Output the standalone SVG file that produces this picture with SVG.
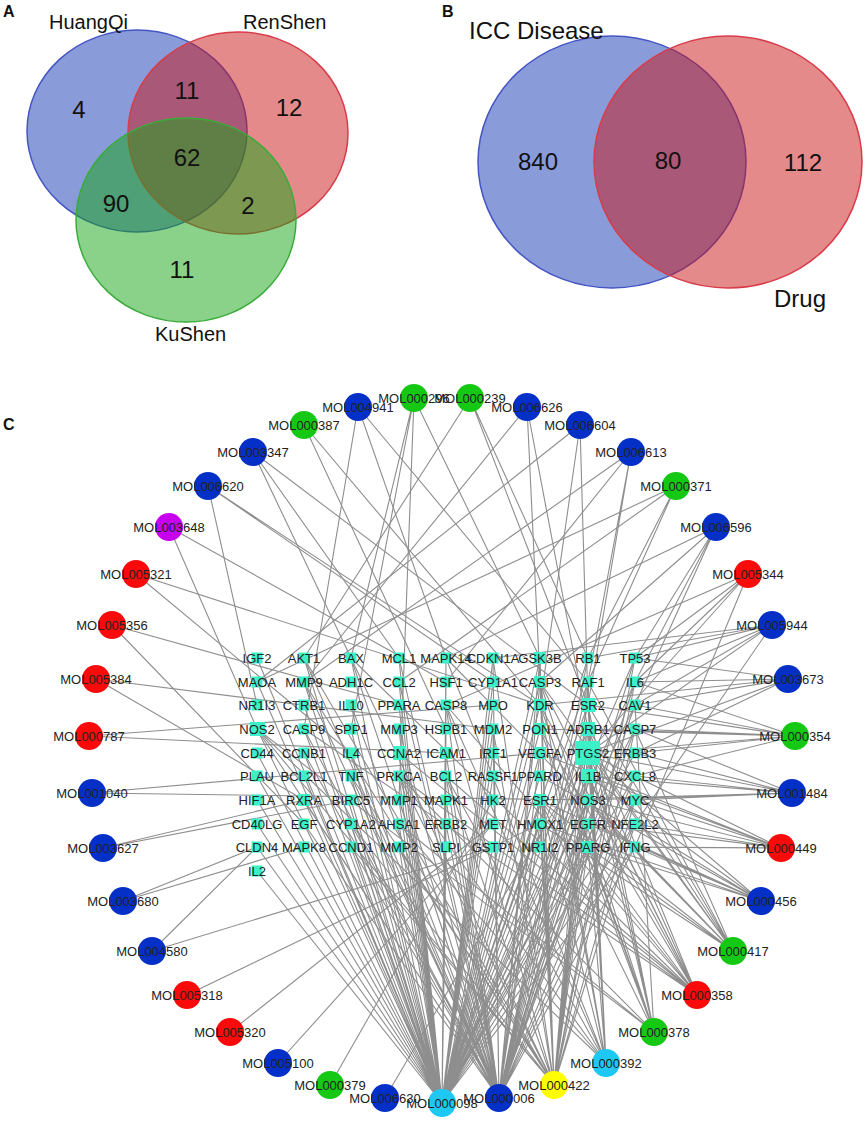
<svg xmlns="http://www.w3.org/2000/svg" width="865" height="1122" viewBox="0 0 865 1122">
<style>
text{font-family:"Liberation Sans",Arial,sans-serif;fill:#111}
.pl{font-weight:bold;font-size:16px}
.vl{font-size:20px}
.vn{font-size:24px;text-anchor:middle}
.vb{fill-opacity:.5;stroke-width:1.5}
.e{stroke:#8e8e8e;stroke-width:1.1;fill:none}
.m text{font-size:13px;text-anchor:middle;fill:#222}
.t text{font-size:13px;text-anchor:middle;fill:#222}
.t rect{fill:#3cf0c8}
.b{fill:#0530c8}.g{fill:#14c814}.r{fill:#fa0a0a}.p{fill:#c800f0}.c{fill:#1ec8f5}.y{fill:#ffff00}
</style>
<rect width="865" height="1122" fill="#fff"/>
<g id="panelA">
<text class="pl" x="3" y="17">A</text>
<ellipse id="vHuangQi" class="vb" cx="137" cy="131" rx="110" ry="101" fill="#1337b1" stroke="#4555c4"/>
<ellipse id="vRenShen" class="vb" cx="238" cy="133" rx="110" ry="101" fill="#cb1515" stroke="#d83c4a"/>
<ellipse id="vKuShen" class="vb" cx="186" cy="220" rx="110" ry="102" fill="#15a515" stroke="#3aac3a"/>
<text class="vl" x="49" y="29">HuangQi</text>
<text class="vl" x="243" y="29">RenShen</text>
<text class="vl" x="155" y="341">KuShen</text>
<text class="vn" x="79" y="118">4</text>
<text class="vn" x="187" y="99">11</text>
<text class="vn" x="289" y="116">12</text>
<text class="vn" x="187" y="166">62</text>
<text class="vn" x="116" y="212">90</text>
<text class="vn" x="248" y="214">2</text>
<text class="vn" x="182" y="278">11</text>
</g>
<g id="panelB">
<text class="pl" x="442" y="17">B</text>
<ellipse id="vICC" class="vb" cx="612" cy="162" rx="134" ry="126" fill="#1337b1" stroke="#4555c4"/>
<ellipse id="vDrug" class="vb" cx="728" cy="162" rx="134" ry="126" fill="#cb1515" stroke="#d83c4a"/>
<text x="469" y="39" font-size="24">ICC Disease</text>
<text x="774" y="307" font-size="24">Drug</text>
<text class="vn" x="538" y="170">840</text>
<text class="vn" x="668" y="169">80</text>
<text class="vn" x="803" y="171">112</text>
</g>
<text class="pl" x="3" y="430">C</text>
<g id="connectors" class="e">
<path d="M442 1103L257 658M442 1103L304 658M442 1103L351 658M442 1103L399 658M442 1103L446 658M442 1103L493 658M442 1103L540 658M442 1103L588 658M442 1103L635 658M442 1103L257 682M442 1103L304 682M442 1103L399 682M442 1103L446 682M442 1103L493 682M442 1103L540 682M442 1103L588 682M442 1103L635 682M442 1103L304 705M442 1103L351 705M442 1103L399 705M442 1103L446 705M442 1103L493 705M442 1103L540 705M442 1103L588 705M442 1103L635 705M442 1103L257 729M442 1103L304 729M442 1103L351 729M442 1103L399 729M442 1103L446 729M442 1103L493 729M442 1103L540 729M442 1103L588 729M442 1103L635 729M442 1103L257 753M442 1103L304 753M442 1103L351 753M442 1103L399 753M442 1103L446 753M442 1103L493 753M442 1103L540 753M442 1103L588 753M442 1103L635 753M442 1103L257 776M442 1103L304 776M442 1103L351 776M442 1103L399 776M442 1103L446 776M442 1103L493 776M442 1103L540 776M442 1103L588 776M442 1103L635 776M442 1103L257 800M442 1103L304 800M442 1103L351 800M442 1103L399 800M442 1103L446 800M442 1103L540 800M442 1103L588 800M442 1103L635 800M442 1103L257 824M442 1103L304 824M442 1103L351 824M442 1103L399 824M442 1103L446 824M442 1103L540 824M442 1103L588 824M442 1103L635 824M442 1103L257 847M442 1103L351 847M442 1103L399 847M442 1103L446 847M442 1103L493 847M442 1103L588 847M442 1103L635 847M442 1103L257 871"/>
<path d="M499 1098L304 658M499 1098L351 658M499 1098L399 658M499 1098L493 658M499 1098L540 658M499 1098L588 658M499 1098L635 658M499 1098L304 682M499 1098L399 682M499 1098L540 682M499 1098L588 682M499 1098L635 682M499 1098L351 705M499 1098L446 705M499 1098L588 705M499 1098L635 705M499 1098L257 729M499 1098L304 729M499 1098L399 729M499 1098L493 729M499 1098L588 729M499 1098L635 729M499 1098L304 753M499 1098L351 753M499 1098L446 753M499 1098L540 753M499 1098L588 753M499 1098L351 776M499 1098L399 776M499 1098L446 776M499 1098L588 776M499 1098L635 776M499 1098L304 800M499 1098L399 800M499 1098L446 800M499 1098L540 800M499 1098L588 800M499 1098L635 800M499 1098L304 824M499 1098L351 824M499 1098L446 824M499 1098L540 824M499 1098L588 824M499 1098L635 824M499 1098L351 847M499 1098L399 847M499 1098L588 847M499 1098L635 847"/>
<path d="M554 1085L304 658M554 1085L351 658M554 1085L493 658M554 1085L540 658M554 1085L635 658M554 1085L304 682M554 1085L540 682M554 1085L588 682M554 1085L635 682M554 1085L446 705M554 1085L257 729M554 1085L493 729M554 1085L588 729M554 1085L635 729M554 1085L540 753M554 1085L588 753M554 1085L351 776M554 1085L399 776M554 1085L446 776M554 1085L588 776M554 1085L540 800M554 1085L588 800M554 1085L635 800M554 1085L351 824M554 1085L540 824M554 1085L588 824M554 1085L635 824M554 1085L351 847M554 1085L399 847M554 1085L588 847"/>
<path d="M606 1063L588 729M606 1063L588 753M606 1063L540 800M606 1063L588 705M606 1063L540 682M606 1063L446 776M606 1063L588 847M606 1063L257 729M606 1063L446 705M606 1063L588 682M606 1063L540 705M606 1063L399 824M606 1063L446 658M606 1063L399 776"/>
<path d="M654 1032L588 753M654 1032L588 729M654 1032L540 800M654 1032L588 705M654 1032L588 847M654 1032L540 682M654 1032L257 729M654 1032L540 705M654 1032L399 824M654 1032L399 776M654 1032L540 729M654 1032L635 705"/>
<path d="M697 995L588 753M697 995L588 729M697 995L446 776M697 995L540 682M697 995L304 729M697 995L446 705M697 995L399 776M697 995L588 847M697 995L540 800M697 995L540 705M697 995L540 729M697 995L351 658M697 995L399 753M697 995L588 776"/>
<path d="M733 951L588 753M733 951L540 800M733 951L588 705M733 951L588 847M733 951L588 800M733 951L588 729M733 951L540 682M733 951L540 824M733 951L635 729M733 951L446 658M733 951L588 682"/>
<path d="M761 901L588 753M761 901L588 776M761 901L635 847M761 901L635 824M761 901L588 847M761 901L588 824M761 901L540 800M761 901L540 776M761 901L540 824"/>
<path d="M781 848L635 824M781 848L635 847M781 848L635 800M781 848L588 753M781 848L588 776M781 848L588 824M781 848L588 800M781 848L588 847M781 848L635 776M781 848L540 753"/>
<path d="M792 793L635 800M792 793L635 776M792 793L588 753M792 793L635 753M792 793L588 776M792 793L588 800M792 793L540 800M792 793L635 729"/>
<path d="M795 736L635 729M795 736L588 753M795 736L635 682M795 736L635 705M795 736L635 753M795 736L635 776M795 736L588 729M795 736L588 705M795 736L540 729"/>
<path d="M788 679L635 682M788 679L635 705M788 679L635 753M788 679L588 753M788 679L540 705M788 679L635 658"/>
<path d="M772 625L635 658M772 625L635 682M772 625L635 705M772 625L588 753M772 625L635 824M772 625L493 658M772 625L588 658"/>
<path d="M748 574L635 847M748 574L635 658M748 574L446 705M748 574L635 682M748 574L588 753"/>
<path d="M716 527L446 658M716 527L540 682M716 527L635 658M716 527L635 682M716 527L635 705"/>
<path d="M676 486L399 682M676 486L257 682M676 486L588 658M676 486L588 682"/>
<path d="M631 452L304 682M631 452L446 682M631 452L588 682M631 452L588 705"/>
<path d="M580 425L257 682M580 425L540 705M580 425L588 705"/>
<path d="M527 407L304 682M527 407L540 682M527 407L588 729"/>
<path d="M470 398L304 658M470 398L588 658M470 398L588 705"/>
<path d="M414 398L351 658M414 398L351 729M414 398L540 658M414 398L399 800"/>
<path d="M358 407L304 729M358 407L588 682M358 407L446 658"/>
<path d="M304 425L446 729M304 425L540 705"/>
<path d="M253 452L399 658M253 452L588 705M253 452L351 658"/>
<path d="M208 486L257 705M208 486L493 682M208 486L540 705"/>
<path d="M169 527L257 729M169 527L446 682"/>
<path d="M136 574L540 705M136 574L351 753"/>
<path d="M112 625L399 705M112 625L304 824"/>
<path d="M96 679L493 729M96 679L304 800"/>
<path d="M89 736L493 705M89 736L446 753"/>
<path d="M92 793L540 753M92 793L588 800"/>
<path d="M103 848L304 800M103 848L351 800"/>
<path d="M123 901L257 847M123 901L304 847"/>
<path d="M152 951L257 847M152 951L493 847"/>
<path d="M187 995L540 824"/>
<path d="M230 1032L493 824"/>
<path d="M278 1063L493 824"/>
<path d="M330 1085L493 800"/>
<path d="M385 1098L588 753"/>
</g>
<g id="targets">
<g id="IGF2" class="t"><rect x="251.5" y="652.5" width="11" height="11"/><text x="257" y="663">IGF2</text></g>
<g id="AKT1" class="t"><rect x="298.5" y="652.5" width="11" height="11"/><text x="304" y="663">AKT1</text></g>
<g id="BAX" class="t"><rect x="345.5" y="652.5" width="11" height="11"/><text x="351" y="663">BAX</text></g>
<g id="MCL1" class="t"><rect x="393.5" y="652.5" width="11" height="11"/><text x="399" y="663">MCL1</text></g>
<g id="MAPK14" class="t"><rect x="440.5" y="652.5" width="11" height="11"/><text x="446" y="663">MAPK14</text></g>
<g id="CDKN1A" class="t"><rect x="487.5" y="652.5" width="11" height="11"/><text x="493" y="663">CDKN1A</text></g>
<g id="GSK3B" class="t"><rect x="534" y="652" width="12" height="12"/><text x="540" y="663">GSK3B</text></g>
<g id="RB1" class="t"><rect x="582.5" y="652.5" width="11" height="11"/><text x="588" y="663">RB1</text></g>
<g id="TP53" class="t"><rect x="629.5" y="652.5" width="11" height="11"/><text x="635" y="663">TP53</text></g>
<g id="MAOA" class="t"><rect x="251.5" y="676.5" width="11" height="11"/><text x="257" y="687">MAOA</text></g>
<g id="MMP9" class="t"><rect x="298.5" y="676.5" width="11" height="11"/><text x="304" y="687">MMP9</text></g>
<g id="ADH1C" class="t"><rect x="345.5" y="676.5" width="11" height="11"/><text x="351" y="687">ADH1C</text></g>
<g id="CCL2" class="t"><rect x="393.5" y="676.5" width="11" height="11"/><text x="399" y="687">CCL2</text></g>
<g id="HSF1" class="t"><rect x="440.5" y="676.5" width="11" height="11"/><text x="446" y="687">HSF1</text></g>
<g id="CYP1A1" class="t"><rect x="487.5" y="676.5" width="11" height="11"/><text x="493" y="687">CYP1A1</text></g>
<g id="CASP3" class="t"><rect x="534" y="676" width="12" height="12"/><text x="540" y="687">CASP3</text></g>
<g id="RAF1" class="t"><rect x="582.5" y="676.5" width="11" height="11"/><text x="588" y="687">RAF1</text></g>
<g id="IL6" class="t"><rect x="629.5" y="676.5" width="11" height="11"/><text x="635" y="687">IL6</text></g>
<g id="NR1I3" class="t"><rect x="251.5" y="699.5" width="11" height="11"/><text x="257" y="710">NR1I3</text></g>
<g id="CTRB1" class="t"><rect x="298.5" y="699.5" width="11" height="11"/><text x="304" y="710">CTRB1</text></g>
<g id="IL10" class="t"><rect x="345.5" y="699.5" width="11" height="11"/><text x="351" y="710">IL10</text></g>
<g id="PPARA" class="t"><rect x="393.5" y="699.5" width="11" height="11"/><text x="399" y="710">PPARA</text></g>
<g id="CASP8" class="t"><rect x="440.5" y="699.5" width="11" height="11"/><text x="446" y="710">CASP8</text></g>
<g id="MPO" class="t"><rect x="487.5" y="699.5" width="11" height="11"/><text x="493" y="710">MPO</text></g>
<g id="KDR" class="t"><rect x="534" y="699" width="12" height="12"/><text x="540" y="710">KDR</text></g>
<g id="ESR2" class="t"><rect x="581" y="698" width="14" height="14"/><text x="588" y="710">ESR2</text></g>
<g id="CAV1" class="t"><rect x="629.5" y="699.5" width="11" height="11"/><text x="635" y="710">CAV1</text></g>
<g id="NOS2" class="t"><rect x="250" y="722" width="15" height="14"/><text x="257" y="734">NOS2</text></g>
<g id="CASP9" class="t"><rect x="298.5" y="723.5" width="11" height="11"/><text x="304" y="734">CASP9</text></g>
<g id="SPP1" class="t"><rect x="345.5" y="723.5" width="11" height="11"/><text x="351" y="734">SPP1</text></g>
<g id="MMP3" class="t"><rect x="393.5" y="723.5" width="11" height="11"/><text x="399" y="734">MMP3</text></g>
<g id="HSPB1" class="t"><rect x="440.5" y="723.5" width="11" height="11"/><text x="446" y="734">HSPB1</text></g>
<g id="MDM2" class="t"><rect x="487.5" y="723.5" width="11" height="11"/><text x="493" y="734">MDM2</text></g>
<g id="PON1" class="t"><rect x="534" y="723" width="12" height="12"/><text x="540" y="734">PON1</text></g>
<g id="ADRB1" class="t"><rect x="581" y="722" width="14" height="14"/><text x="588" y="734">ADRB1</text></g>
<g id="CASP7" class="t"><rect x="629.5" y="723.5" width="11" height="11"/><text x="635" y="734">CASP7</text></g>
<g id="CD44" class="t"><rect x="251.5" y="747.5" width="11" height="11"/><text x="257" y="758">CD44</text></g>
<g id="CCNB1" class="t"><rect x="298.5" y="747.5" width="11" height="11"/><text x="304" y="758">CCNB1</text></g>
<g id="IL4" class="t"><rect x="345.5" y="747.5" width="11" height="11"/><text x="351" y="758">IL4</text></g>
<g id="CCNA2" class="t"><rect x="393" y="746" width="13" height="14"/><text x="399" y="758">CCNA2</text></g>
<g id="ICAM1" class="t"><rect x="440" y="747" width="12" height="12"/><text x="446" y="758">ICAM1</text></g>
<g id="IRF1" class="t"><rect x="487.5" y="747.5" width="11" height="11"/><text x="493" y="758">IRF1</text></g>
<g id="VEGFA" class="t"><rect x="534" y="747" width="12" height="12"/><text x="540" y="758">VEGFA</text></g>
<g id="PTGS2" class="t"><rect x="575" y="741" width="25" height="24"/><text x="588" y="758">PTGS2</text></g>
<g id="ERBB3" class="t"><rect x="629.5" y="747.5" width="11" height="11"/><text x="635" y="758">ERBB3</text></g>
<g id="PLAU" class="t"><rect x="251.5" y="770.5" width="11" height="11"/><text x="257" y="781">PLAU</text></g>
<g id="BCL2L1" class="t"><rect x="298.5" y="770.5" width="11" height="11"/><text x="304" y="781">BCL2L1</text></g>
<g id="TNF" class="t"><rect x="345.5" y="770.5" width="11" height="11"/><text x="351" y="781">TNF</text></g>
<g id="PRKCA" class="t"><rect x="393.5" y="770.5" width="11" height="11"/><text x="399" y="781">PRKCA</text></g>
<g id="BCL2" class="t"><rect x="440.5" y="770.5" width="11" height="11"/><text x="446" y="781">BCL2</text></g>
<g id="RASSF1" class="t"><rect x="487.5" y="770.5" width="11" height="11"/><text x="493" y="781">RASSF1</text></g>
<g id="PPARD" class="t"><rect x="534.5" y="770.5" width="11" height="11"/><text x="540" y="781">PPARD</text></g>
<g id="IL1B" class="t"><rect x="581" y="769" width="14" height="14"/><text x="588" y="781">IL1B</text></g>
<g id="CXCL8" class="t"><rect x="629.5" y="770.5" width="11" height="11"/><text x="635" y="781">CXCL8</text></g>
<g id="HIF1A" class="t"><rect x="251.5" y="794.5" width="11" height="11"/><text x="257" y="805">HIF1A</text></g>
<g id="RXRA" class="t"><rect x="298" y="794" width="12" height="12"/><text x="304" y="805">RXRA</text></g>
<g id="BIRC5" class="t"><rect x="345.5" y="794.5" width="11" height="11"/><text x="351" y="805">BIRC5</text></g>
<g id="MMP1" class="t"><rect x="393.5" y="794.5" width="11" height="11"/><text x="399" y="805">MMP1</text></g>
<g id="MAPK1" class="t"><rect x="440.5" y="794.5" width="11" height="11"/><text x="446" y="805">MAPK1</text></g>
<g id="HK2" class="t"><rect x="487.5" y="794.5" width="11" height="11"/><text x="493" y="805">HK2</text></g>
<g id="ESR1" class="t"><rect x="534" y="794" width="12" height="12"/><text x="540" y="805">ESR1</text></g>
<g id="NOS3" class="t"><rect x="582.5" y="794.5" width="11" height="11"/><text x="588" y="805">NOS3</text></g>
<g id="MYC" class="t"><rect x="629.5" y="794.5" width="11" height="11"/><text x="635" y="805">MYC</text></g>
<g id="CD40LG" class="t"><rect x="251.5" y="818.5" width="11" height="11"/><text x="257" y="829">CD40LG</text></g>
<g id="EGF" class="t"><rect x="298.5" y="818.5" width="11" height="11"/><text x="304" y="829">EGF</text></g>
<g id="CYP1A2" class="t"><rect x="345.5" y="818.5" width="11" height="11"/><text x="351" y="829">CYP1A2</text></g>
<g id="AHSA1" class="t"><rect x="393.5" y="818.5" width="11" height="11"/><text x="399" y="829">AHSA1</text></g>
<g id="ERBB2" class="t"><rect x="440.5" y="818.5" width="11" height="11"/><text x="446" y="829">ERBB2</text></g>
<g id="MET" class="t"><rect x="487.5" y="818.5" width="11" height="11"/><text x="493" y="829">MET</text></g>
<g id="HMOX1" class="t"><rect x="534.5" y="818.5" width="11" height="11"/><text x="540" y="829">HMOX1</text></g>
<g id="EGFR" class="t"><rect x="582.5" y="818.5" width="11" height="11"/><text x="588" y="829">EGFR</text></g>
<g id="NFE2L2" class="t"><rect x="629.5" y="818.5" width="11" height="11"/><text x="635" y="829">NFE2L2</text></g>
<g id="CLDN4" class="t"><rect x="251.5" y="841.5" width="11" height="11"/><text x="257" y="852">CLDN4</text></g>
<g id="MAPK8" class="t"><rect x="298.5" y="841.5" width="11" height="11"/><text x="304" y="852">MAPK8</text></g>
<g id="CCND1" class="t"><rect x="345.5" y="841.5" width="11" height="11"/><text x="351" y="852">CCND1</text></g>
<g id="MMP2" class="t"><rect x="393.5" y="841.5" width="11" height="11"/><text x="399" y="852">MMP2</text></g>
<g id="SLPI" class="t"><rect x="440.5" y="841.5" width="11" height="11"/><text x="446" y="852">SLPI</text></g>
<g id="GSTP1" class="t"><rect x="487.5" y="841.5" width="11" height="11"/><text x="493" y="852">GSTP1</text></g>
<g id="NR1I2" class="t"><rect x="534.5" y="841.5" width="11" height="11"/><text x="540" y="852">NR1I2</text></g>
<g id="PPARG" class="t"><rect x="582" y="841" width="12" height="12"/><text x="588" y="852">PPARG</text></g>
<g id="IFNG" class="t"><rect x="629.5" y="841.5" width="11" height="11"/><text x="635" y="852">IFNG</text></g>
<g id="IL2" class="t"><rect x="251.5" y="865.5" width="11" height="11"/><text x="257" y="876">IL2</text></g>
</g>
<g id="compounds">
<g id="MOL000098" class="m"><circle class="c" cx="442" cy="1103" r="14"/><text x="442" y="1108">MOL000098</text></g>
<g id="MOL006630" class="m"><circle class="b" cx="385" cy="1098" r="14"/><text x="385" y="1103">MOL006630</text></g>
<g id="MOL000379" class="m"><circle class="g" cx="330" cy="1085" r="14"/><text x="330" y="1090">MOL000379</text></g>
<g id="MOL005100" class="m"><circle class="b" cx="278" cy="1063" r="14"/><text x="278" y="1068">MOL005100</text></g>
<g id="MOL005320" class="m"><circle class="r" cx="230" cy="1032" r="14"/><text x="230" y="1037">MOL005320</text></g>
<g id="MOL005318" class="m"><circle class="r" cx="187" cy="995" r="14"/><text x="187" y="1000">MOL005318</text></g>
<g id="MOL004580" class="m"><circle class="b" cx="152" cy="951" r="14"/><text x="152" y="956">MOL004580</text></g>
<g id="MOL003680" class="m"><circle class="b" cx="123" cy="901" r="14"/><text x="123" y="906">MOL003680</text></g>
<g id="MOL003627" class="m"><circle class="b" cx="103" cy="848" r="14"/><text x="103" y="853">MOL003627</text></g>
<g id="MOL001040" class="m"><circle class="b" cx="92" cy="793" r="14"/><text x="92" y="798">MOL001040</text></g>
<g id="MOL000787" class="m"><circle class="r" cx="89" cy="736" r="14"/><text x="89" y="741">MOL000787</text></g>
<g id="MOL005384" class="m"><circle class="r" cx="96" cy="679" r="14"/><text x="96" y="684">MOL005384</text></g>
<g id="MOL005356" class="m"><circle class="r" cx="112" cy="625" r="14"/><text x="112" y="630">MOL005356</text></g>
<g id="MOL005321" class="m"><circle class="r" cx="136" cy="574" r="14"/><text x="136" y="579">MOL005321</text></g>
<g id="MOL003648" class="m"><circle class="p" cx="169" cy="527" r="14"/><text x="169" y="532">MOL003648</text></g>
<g id="MOL006620" class="m"><circle class="b" cx="208" cy="486" r="14"/><text x="208" y="491">MOL006620</text></g>
<g id="MOL003347" class="m"><circle class="b" cx="253" cy="452" r="14"/><text x="253" y="457">MOL003347</text></g>
<g id="MOL000387" class="m"><circle class="g" cx="304" cy="425" r="14"/><text x="304" y="430">MOL000387</text></g>
<g id="MOL004941" class="m"><circle class="b" cx="358" cy="407" r="14"/><text x="358" y="412">MOL004941</text></g>
<g id="MOL000296" class="m"><circle class="g" cx="414" cy="398" r="14"/><text x="414" y="403">MOL000296</text></g>
<g id="MOL000239" class="m"><circle class="g" cx="470" cy="398" r="14"/><text x="470" y="403">MOL000239</text></g>
<g id="MOL006626" class="m"><circle class="b" cx="527" cy="407" r="14"/><text x="527" y="412">MOL006626</text></g>
<g id="MOL006604" class="m"><circle class="b" cx="580" cy="425" r="14"/><text x="580" y="430">MOL006604</text></g>
<g id="MOL006613" class="m"><circle class="b" cx="631" cy="452" r="14"/><text x="631" y="457">MOL006613</text></g>
<g id="MOL000371" class="m"><circle class="g" cx="676" cy="486" r="14"/><text x="676" y="491">MOL000371</text></g>
<g id="MOL006596" class="m"><circle class="b" cx="716" cy="527" r="14"/><text x="716" y="532">MOL006596</text></g>
<g id="MOL005344" class="m"><circle class="r" cx="748" cy="574" r="14"/><text x="748" y="579">MOL005344</text></g>
<g id="MOL005944" class="m"><circle class="b" cx="772" cy="625" r="14"/><text x="772" y="630">MOL005944</text></g>
<g id="MOL003673" class="m"><circle class="b" cx="788" cy="679" r="14"/><text x="788" y="684">MOL003673</text></g>
<g id="MOL000354" class="m"><circle class="g" cx="795" cy="736" r="14"/><text x="795" y="741">MOL000354</text></g>
<g id="MOL001484" class="m"><circle class="b" cx="792" cy="793" r="14"/><text x="792" y="798">MOL001484</text></g>
<g id="MOL000449" class="m"><circle class="r" cx="781" cy="848" r="14"/><text x="781" y="853">MOL000449</text></g>
<g id="MOL000456" class="m"><circle class="b" cx="761" cy="901" r="14"/><text x="761" y="906">MOL000456</text></g>
<g id="MOL000417" class="m"><circle class="g" cx="733" cy="951" r="14"/><text x="733" y="956">MOL000417</text></g>
<g id="MOL000358" class="m"><circle class="r" cx="697" cy="995" r="14"/><text x="697" y="1000">MOL000358</text></g>
<g id="MOL000378" class="m"><circle class="g" cx="654" cy="1032" r="14"/><text x="654" y="1037">MOL000378</text></g>
<g id="MOL000392" class="m"><circle class="c" cx="606" cy="1063" r="14"/><text x="606" y="1068">MOL000392</text></g>
<g id="MOL000422" class="m"><circle class="y" cx="554" cy="1085" r="14"/><text x="554" y="1090">MOL000422</text></g>
<g id="MOL000006" class="m"><circle class="b" cx="499" cy="1098" r="14"/><text x="499" y="1103">MOL000006</text></g>
</g>
</svg>
